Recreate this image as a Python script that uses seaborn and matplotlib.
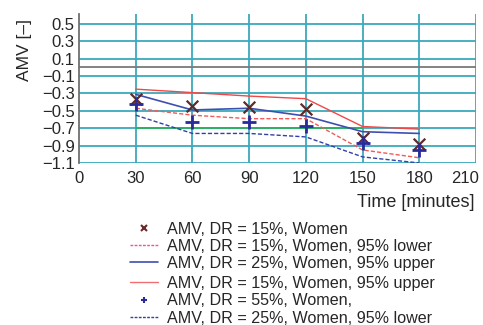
import matplotlib
matplotlib.use("Agg")
import matplotlib.pyplot as plt
import matplotlib.transforms as mtransforms
import seaborn as sns
import pandas as pd
from matplotlib.lines import Line2D

sns.set_theme(style="white")
plt.rcParams["font.family"] = ["Liberation Sans", "DejaVu Sans"]

time_min = [30, 60, 90, 120, 150, 180]
amv_dr15 = [-0.36, -0.44, -0.46, -0.48, -0.81, -0.88]
amv_dr55 = [-0.42, -0.63, -0.63, -0.68, -0.87, -0.95]
dr15_upper = [-0.25, -0.29, -0.33, -0.36, -0.68, -0.71]
dr15_lower = [-0.47, -0.55, -0.59, -0.59, -0.95, -1.04]
dr25_upper = [-0.31, -0.49, -0.47, -0.56, -0.74, -0.76]
dr25_lower = [-0.55, -0.76, -0.76, -0.80, -1.03, -1.10]
ref_time = [30, 150]
ref_level = [-0.7, -0.7]

x_ticks = [0, 30, 60, 90, 120, 150, 180, 210]
y_ticks = [0.5, 0.3, 0.1, -0.1, -0.3, -0.5, -0.7, -0.9, -1.1]

df = pd.DataFrame({
    "time": time_min,
    "amv15": amv_dr15,
    "amv55": amv_dr55,
    "up15": dr15_upper,
    "lo15": dr15_lower,
    "up25": dr25_upper,
    "lo25": dr25_lower,
})

fig = plt.figure(figsize=(4.83, 3.25), dpi=100)
ax = fig.add_axes([0.1636, 0.4985, 0.8219, 0.4585])

grid_c = "#3aa9bb"
for yv in y_ticks:
    ax.axhline(yv, color=grid_c, lw=1.3, zorder=0)
for xv in x_ticks[1:]:
    ax.axvline(xv, color=grid_c, lw=1.3, zorder=0)
ax.axhline(0, color="#7a7a7a", lw=1.3, zorder=0)
ax.plot(ref_time, ref_level, color="#2bb060", lw=1.3, zorder=1)

red_s = "#f04848"
red_d = "#f05a5a"
blue_s = "#3f4fb0"
blue_d = "#3040a8"

sns.lineplot(data=df, x="time", y="up15", ax=ax, color=red_s, lw=1.0, zorder=2)
sns.lineplot(data=df, x="time", y="up25", ax=ax, color=blue_s, lw=1.2, zorder=2)
sns.lineplot(data=df, x="time", y="lo15", ax=ax, color=red_d, lw=1.0,
             linestyle=(0, (3, 1.5)), zorder=2)
sns.lineplot(data=df, x="time", y="lo25", ax=ax, color=blue_d, lw=1.0,
             linestyle=(0, (3, 1.5)), zorder=2)
sns.scatterplot(data=df, x="time", y="amv15", ax=ax, marker="x", s=70,
                color="#5e2a2a", linewidth=1.6, zorder=3)
sns.scatterplot(data=df, x="time", y="amv55", ax=ax, marker="+", s=100,
                color="#2a2a9a", linewidth=2.0, zorder=3)

ax.set_xlim(0, 210)
ax.set_ylim(-1.1, 0.615)
ax.set_xticks(x_ticks)
ax.set_yticks(y_ticks)
ax.set_yticklabels([f"{v:.1f}".replace("-", "\u2212") for v in y_ticks])
ax.tick_params(axis="both", labelsize=12, length=0)
ax.tick_params(axis="x", pad=6)
ax.tick_params(axis="y", pad=3)
for side in ["top", "right", "bottom"]:
    ax.spines[side].set_visible(False)
ax.spines["left"].set_color("#707070")
ax.spines["left"].set_linewidth(1.3)

# keep the last x tick label inside the figure
last = ax.get_xticklabels()[-1]
last.set_transform(last.get_transform() +
                   mtransforms.ScaledTranslation(-11 / 100, 0, fig.dpi_scale_trans))

ax.set_xlabel("Time [minutes]", fontsize=13, loc="right")
ax.xaxis.set_label_coords(0.997, -0.205)
ax.set_ylabel("AMV [\u2013]", fontsize=12.5, loc="top")
ax.yaxis.set_label_coords(-0.118, 0.965)

h1 = [
    Line2D([], [], color="#6a2a2a", marker="x", ls="none", ms=4, mew=1.5),
    Line2D([], [], color="#f050a0", ls=(0, (2, 1)), lw=1.0),
    Line2D([], [], color=blue_s, lw=1.2),
]
l1 = ["AMV, DR = 15%, Women",
      "AMV, DR = 15%, Women, 95% lower",
      "AMV, DR = 25%, Women, 95% upper"]
h2 = [
    Line2D([], [], color="#f07070", lw=1.0),
    Line2D([], [], color="#2a2a9a", marker="+", ls="none", ms=4, mew=1.5),
    Line2D([], [], color=blue_d, ls=(0, (2, 1)), lw=1.0),
]
l2 = ["AMV, DR = 15%, Women, 95% upper",
      "AMV, DR = 55%, Women,",
      "AMV, DR = 25%, Women, 95% lower"]

kw = dict(frameon=False, fontsize=11.6, handlelength=1.75, handletextpad=0.55,
          labelspacing=0.14, borderpad=0, borderaxespad=0, loc="upper left")
leg1 = fig.legend(h1, l1, bbox_to_anchor=(130 / 483, 1 - 221.5 / 325), **kw)
leg2 = fig.legend(h2, l2, bbox_to_anchor=(130 / 483, 1 - 276 / 325), **kw)

fig.savefig("out.png", dpi=100)
